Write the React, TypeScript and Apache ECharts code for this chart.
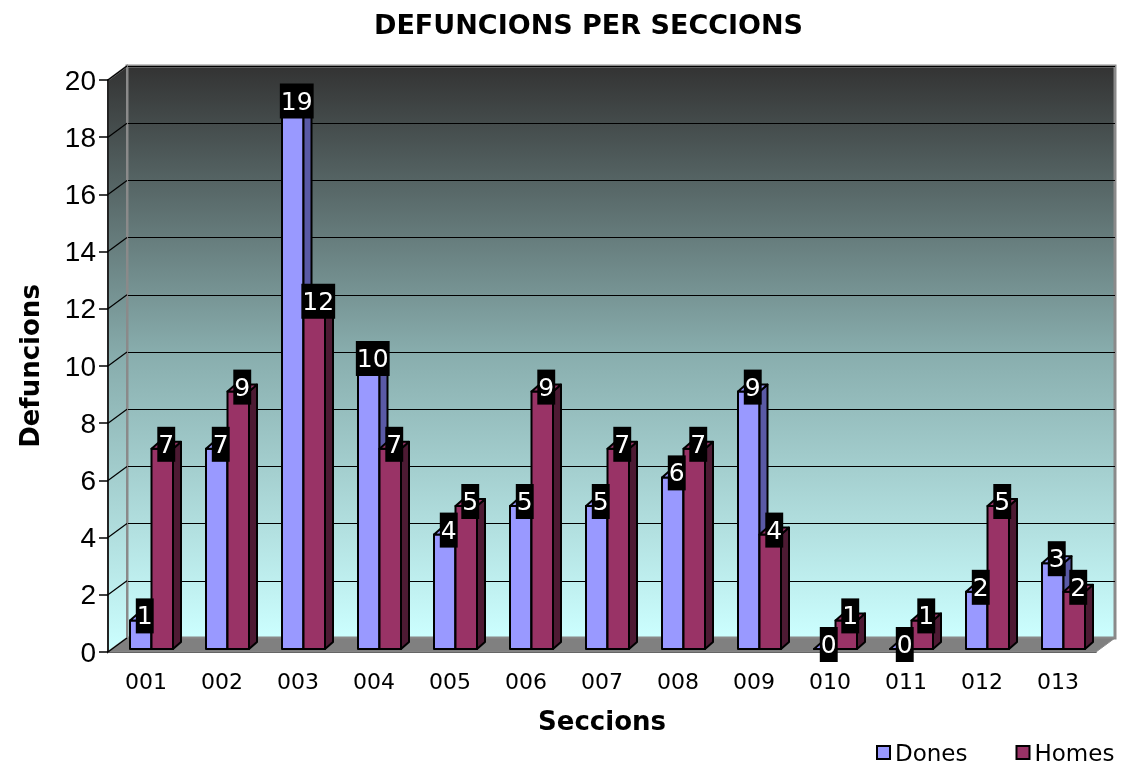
import React, { useEffect, useRef } from "react";
import * as echarts from "echarts";

const categories = ["001", "002", "003", "004", "005", "006", "007", "008", "009", "010", "011", "012", "013"];
const dones = [1, 7, 19, 10, 4, 5, 5, 6, 9, 0, 0, 2, 3];
const homes = [7, 9, 12, 7, 5, 9, 7, 7, 4, 1, 1, 5, 2];
const seriesNames = ["Dones", "Homes"];
const yMax = 20;
const yStep = 2;

// layout
const L = 108, R = 1096, T = 80, B = 652, W = 1124, H = 765;
const WX = 19, WY = -14; // back wall offset
const BX_FRAC = 5.5 / 76, BAR_FRAC = 21.5 / 76, BY = -3;
const DX = 8, DY = -7;
const FONT = "'DejaVu Sans', Verdana, sans-serif";

const colors = [
  { front: "#9999ff", side: "#5a5aa6", top: "#9999ff" },
  { front: "#993366", side: "#4d1a33", top: "#993366" },
];

const wallGradient = {
  type: "linear", x: 0, y: 0, x2: 0, y2: 1,
  colorStops: [
    { offset: 0, color: "#333333" },
    { offset: 0.5, color: "#88adad" },
    { offset: 1, color: "#ccffff" },
  ],
};

export default function App() {
  const ref = useRef<HTMLDivElement>(null);
  useEffect(() => {
    const chart = echarts.init(ref.current!, null, { renderer: "svg" });
    const renderItem = (params: any, api: any) => {
      const cat = api.value(0);
      const val = api.value(1);
      const base = api.coord([cat, 0]);
      const top = api.coord([cat, val]);
      const catW = api.size([1, 0])[0];
      const w = catW * BAR_FRAC;
      const x0 = base[0] + catW * BX_FRAC + (params.seriesIndex === 0 ? -w : 0);
      const yb = base[1] + BY;
      const yt = top[1] + BY;
      const c = colors[params.seriesIndex];
      const st = { stroke: "#000", lineWidth: 2, lineJoin: "round" };
      return {
        type: "group",
        children: [
          { type: "rect", shape: { x: x0, y: yt, width: w, height: yb - yt }, style: { fill: c.front, ...st } },
          { type: "polygon", shape: { points: [[x0 + w, yt], [x0 + w + DX, yt + DY], [x0 + w + DX, yb + DY], [x0 + w, yb]] }, style: { fill: c.side, ...st } },
          { type: "polygon", shape: { points: [[x0, yt], [x0 + DX, yt + DY], [x0 + w + DX, yt + DY], [x0 + w, yt]] }, style: { fill: c.top, ...st } },
          {
            type: "text", x: x0 + w / 2 + DX / 2, y: yt + DY / 2 - 1, z2: 100,
            style: {
              text: String(val), fill: "#fff", fontSize: 25, fontFamily: FONT,
              align: "center", verticalAlign: "middle", backgroundColor: "#000",
              padding: [0, 1], lineHeight: 35,
            },
          },
        ],
      };
    };
    const seriesData = [dones, homes];
    chart.setOption({
      animation: false,
      title: {
        text: "DEFUNCIONS PER SECCIONS", left: 369, top: 6,
        textStyle: { fontSize: 27, fontWeight: "bold", fontFamily: FONT, color: "#000" },
      },
      legend: {
        data: seriesNames, left: 876, top: 741, padding: 0, itemWidth: 13, itemHeight: 13, itemGap: 48,
        icon: "rect", itemStyle: { borderColor: "#000", borderWidth: 2 },
        textStyle: { fontSize: 23, fontFamily: FONT, color: "#000" },
      },
      grid: [
        { left: L, right: W - R, top: T, bottom: H - B, show: false },
        {
          left: L + WX, right: W - R - WX, top: T + WY, bottom: H - B - WY, show: true,
          backgroundColor: wallGradient, borderColor: "#8a8a8a", borderWidth: 3,
        },
      ],
      xAxis: [
        {
          type: "category", data: categories, gridIndex: 0,
          axisLine: { lineStyle: { color: "#000", width: 1.5 } },
          axisTick: { alignWithLabel: false, length: 10, lineStyle: { color: "#000", width: 1.5 } },
          axisLabel: { fontSize: 22, fontFamily: FONT, color: "#000", margin: 18 },
          name: "Seccions", nameLocation: "middle", nameGap: 56,
          nameTextStyle: { fontSize: 26, fontWeight: "bold", fontFamily: FONT, color: "#000" },
        },
        { type: "category", data: categories, gridIndex: 1, show: false },
      ],
      yAxis: [
        {
          type: "value", min: 0, max: yMax, interval: yStep, gridIndex: 0,
          axisLine: { show: true, lineStyle: { color: "#000", width: 1.5 } },
          axisTick: { show: true, length: 9, lineStyle: { color: "#000", width: 1.5 } },
          splitLine: { show: false },
          axisLabel: { fontSize: 28, fontFamily: "'Liberation Sans', Arial, sans-serif", color: "#000", margin: 12 },
          name: "Defuncions", nameLocation: "middle", nameGap: 65, nameRotate: 90,
          nameTextStyle: { fontSize: 26, fontWeight: "bold", fontFamily: FONT, color: "#000" },
        },
        {
          type: "value", min: 0, max: yMax, interval: yStep, gridIndex: 1,
          axisLine: { show: false }, axisTick: { show: false }, axisLabel: { show: false },
          splitLine: { show: true, lineStyle: { color: "#000", width: 1.2 } },
        },
      ],
      series: seriesNames.map((name, si) => ({
        type: "custom", name, xAxisIndex: 0, yAxisIndex: 0,
        itemStyle: { color: colors[si].front },
        renderItem, encode: { x: 0, y: 1 },
        data: seriesData[si].map((v, i) => [i, v]),
      })),
    });

    const yPix = (v: number) => chart.convertToPixel({ yAxisIndex: 0 }, v) as number;
    const yTop = yPix(yMax), yBot = yPix(0);
    const graphics: any[] = [
      {
        type: "polygon", z: 0, silent: true,
        shape: { points: [[L, yTop], [L + WX, yTop + WY], [L + WX, yBot + WY], [L, yBot]] },
        style: { fill: wallGradient, stroke: "#8a8a8a", lineWidth: 2 },
      },
      {
        type: "polygon", z: 1, silent: true,
        shape: { points: [[L, B], [R, B], [R + WX, B + WY], [L + WX, B + WY]] },
        style: { fill: "#808080", stroke: "#8a8a8a", lineWidth: 1 },
      },
    ];
    for (let v = 0; v <= yMax; v += yStep) {
      const y = yPix(v);
      graphics.push({
        type: "line", z: 1, silent: true,
        shape: { x1: L, y1: y, x2: L + WX, y2: y + WY },
        style: { stroke: "#000", lineWidth: 1.2 },
      });
    }
    chart.setOption({ graphic: graphics });
    return () => chart.dispose();
  }, []);
  return <div ref={ref} style={{ position: "fixed", left: 0, top: 0, width: W, height: H }} />;
}
